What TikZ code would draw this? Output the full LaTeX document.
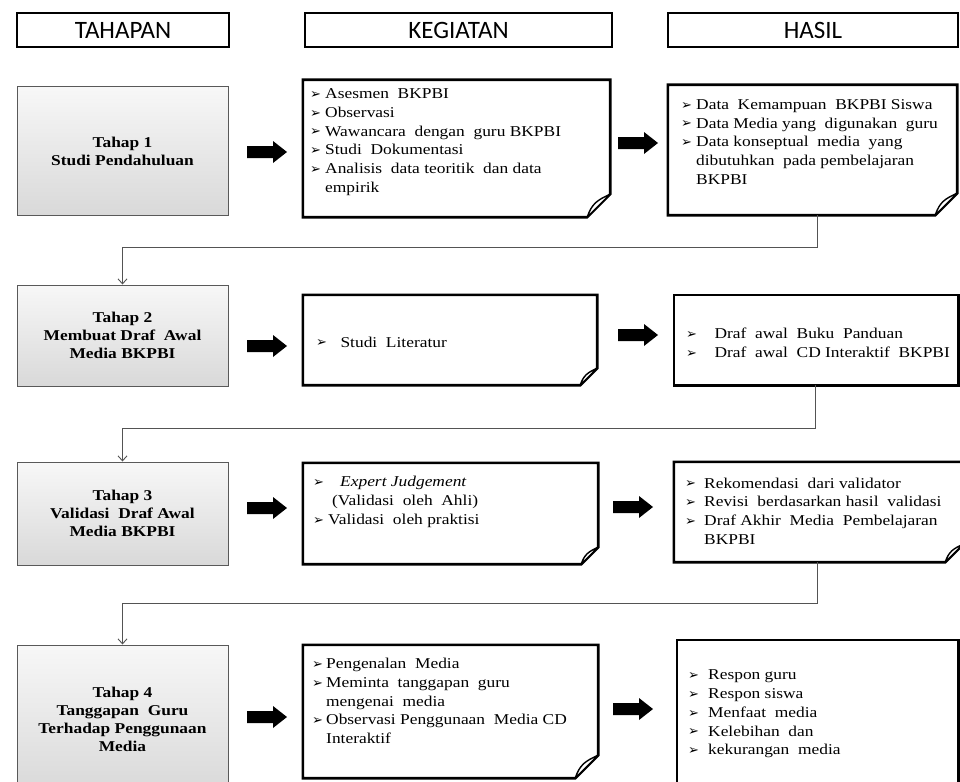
\documentclass[tikz,border=0pt]{standalone}
\usepackage{fontspec}
\setmainfont[FakeStretch=1.16]{Liberation Serif}
\newfontfamily\hdrfont{Carlito}
\newfontfamily\symf{DejaVu Sans}
\usetikzlibrary{arrows.meta}
\newcommand\bl[1][15pt]{\makebox[#1][l]{\raisebox{0.3pt}{\symf\fontsize{13}{13}\selectfont ➢}}}
\newcommand\ind[1][15pt]{\hspace*{#1}}
\newcommand\foldoutline[2]{%
  \draw[boxline] (#1.north west) -- (#1.north east) -- ([yshift=#2]#1.south east)
    -- ([xshift=-#2]#1.south east) -- (#1.south west) -- cycle;
  \draw[line width=1.4pt, fill=white, line join=round] ([yshift=#2]#1.south east)
    .. controls ([xshift=-0.55*#2, yshift=0.75*#2]#1.south east) and ([xshift=-0.8*#2, yshift=0.6*#2]#1.south east)
    .. ([xshift=-#2]#1.south east) -- cycle;}
\newcommand\plainoutline[1]{\draw[boxline] (#1.north west) rectangle (#1.south east);}
\newcommand\blockarrow[3]{%
  \coordinate (#1) at (#2,#3);
  \fill[black, line join=round] ([shift={(0,-6)}]#1) -- ++(26,0) -- ++(0,-5) -- ++(14,11) -- ++(-14,11) -- ++(0,-5) -- ++(-26,0) -- cycle;}
\begin{document}
\begin{tikzpicture}[x=1pt,y=-1pt,
  hdr/.style={draw, line width=2.6pt, fill=white, minimum height=34pt, inner sep=0pt,
    font=\hdrfont\fontsize{25}{27}\selectfont},
  tahap/.style={draw=black!65, line width=1pt, minimum width=211pt, inner sep=0pt, align=center,
    top color=gray!6, middle color=gray!15, bottom color=gray!30,
    font=\bfseries\fontsize{15}{18}\selectfont},
  area/.style={inner sep=0pt},
  boxline/.style={line width=2.6pt, line join=miter},
  txt/.style={anchor=west, inner sep=0pt, align=left, font=\fontsize{15}{18.7}\selectfont},
  conn/.style={draw=gray!65!black, line width=0.9pt, -{Straight Barb[length=5pt,width=9pt]}}]
\clip (0,0) rectangle (960,781);
\fill[white] (0,0) rectangle (960,781);

% headers
\node[hdr, minimum width=212pt] (hT) at (123,30) {TAHAPAN};
\node[hdr, minimum width=307pt] (hK) at (458.5,30) {KEGIATAN};
\node[hdr, minimum width=290pt] (hH) at (813,30) {HASIL};

% tahap boxes
\node[tahap, minimum height=129pt] (t1) at (122.5,151) {Tahap 1\\Studi Pendahuluan};
\node[tahap, minimum height=101pt] (t2) at (122.5,335.5) {Tahap 2\\Membuat Draf\ \ Awal\\Media BKPBI};
\node[tahap, minimum height=103pt] (t3) at (122.5,513.5) {Tahap 3\\Validasi\ \ Draf Awal\\Media BKPBI};
\node[tahap, minimum height=148pt] (t4) at (122.5,719) {Tahap 4\\Tanggapan\ \ Guru\\Terhadap Penggunaan\\Media};

% kegiatan areas
\node[area, minimum width=307pt, minimum height=137pt] (k1) at (456.5,148.5) {};
\node[area, minimum width=294pt, minimum height=90pt] (k2) at (450,340) {};
\node[area, minimum width=295pt, minimum height=101pt] (k3) at (450.5,513.5) {};
\node[area, minimum width=295pt, minimum height=133pt] (k4) at (450.5,711.5) {};
% hasil areas
\node[area, minimum width=289pt, minimum height=130pt] (h1) at (812.5,150) {};
\node[area, minimum width=284pt, minimum height=90pt] (h2) at (816,340) {};
\node[area, minimum width=289pt, minimum height=100pt] (h3) at (818.5,512) {};
\node[area, minimum width=281pt, minimum height=155pt] (h4) at (817.5,717.5) {};

\foldoutline{k1}{23}
\foldoutline{k2}{17}
\foldoutline{k3}{17}
\foldoutline{k4}{23}
\foldoutline{h1}{22}
\plainoutline{h2}
\foldoutline{h3}{18}
\plainoutline{h4}

% texts
\node[txt] (k1t) at (310,142) {\bl Asesmen\ \ BKPBI\\ \bl Observasi\\ \bl Wawancara\ \ dengan\ \ guru BKPBI\\ \bl Studi\ \ Dokumentasi\\ \bl Analisis\ \ data teoritik\ \ dan data\\ \ind empirik};
\node[txt] (h1t) at (681,142) {\bl Data\ \ Kemampuan\ \ BKPBI Siswa\\ \bl Data Media yang\ \ digunakan\ \ guru\\ \bl Data konseptual\ \ media\ \ yang\\ \ind dibutuhkan\ \ pada pembelajaran\\ \ind BKPBI};
\node[txt] (k2t) at (316,342) {\bl[20pt] Studi\ \ Literatur};
\node[txt] (h2t) at (686,343) {\bl[24pt] Draf\ \ awal\ \ Buku\ \ Panduan\\ \bl[24pt] Draf\ \ awal\ \ CD Interaktif\ \ BKPBI};
\node[txt] (k3t) at (313,502) {\bl[27pt]\textit{Expert Judgement}\\ \ind[19pt](Validasi\ \ oleh\ \ Ahli)\\ \bl Validasi\ \ oleh\ praktisi};
\node[txt] (h3t) at (685,511) {\bl[19pt]Rekomendasi\ \ dari\ validator\\ \bl[19pt]Revisi\ \ berdasarkan\ hasil\ \ validasi\\ \bl[19pt]Draf Akhir\ \ Media\ \ Pembelajaran\\ \ind[19pt]BKPBI};
\node[txt] (k4t) at (312,701) {\bl[14pt]Pengenalan\ \ Media\\ \bl[14pt]Meminta\ \ tanggapan\ \ guru\\ \ind[14pt]mengenai\ \ media\\ \bl[14pt]Observasi Penggunaan\ \ Media CD\\ \ind[14pt]Interaktif};
\node[txt] (h4t) at (688,714) {\bl[20pt]Respon guru\\ \bl[20pt]Respon siswa\\ \bl[20pt]Menfaat\ \ media\\ \bl[20pt]Kelebihan\ \ dan\\ \bl[20pt]kekurangan\ \ media};

% block arrows
\blockarrow{a1}{247}{152}
\blockarrow{a2}{618}{143}
\blockarrow{a3}{247}{346}
\blockarrow{a4}{618}{335}
\blockarrow{a5}{247}{508}
\blockarrow{a6}{613}{507}
\blockarrow{a7}{247}{717}
\blockarrow{a8}{613}{709}

% connectors
\coordinate (j1) at (817,247);
\coordinate (j2) at (815,428);
\coordinate (j3) at (817,603);
\draw[conn] (j1 |- h1.south) -- (j1) -| (t2.north);
\draw[conn] (j2 |- h2.south) -- (j2) -| (t3.north);
\draw[conn] (j3 |- h3.south) -- (j3) -| (t4.north);
\end{tikzpicture}
\end{document}
